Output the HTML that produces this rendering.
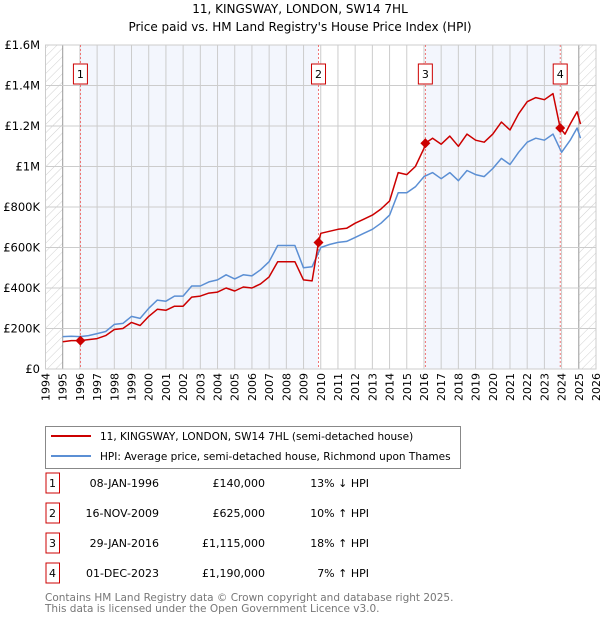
<!DOCTYPE html>
<html><head><meta charset="utf-8"><style>
body{margin:0;background:#fff;font-family:"Liberation Sans","DejaVu Sans",sans-serif;}
svg text{font-family:"DejaVu Sans","Liberation Sans",sans-serif;}
</style></head><body>
<svg width="600" height="620" viewBox="0 0 600 620">
<defs>
<pattern id="hatch" width="6" height="6" patternUnits="userSpaceOnUse" patternTransform="rotate(45)">
<line x1="0" y1="0" x2="0" y2="6" stroke="#bbb" stroke-width="0.7"/></pattern>
</defs>
<text x="300" y="13" text-anchor="middle" font-size="12">11, KINGSWAY, LONDON, SW14 7HL</text>
<text x="300" y="31" text-anchor="middle" font-size="12">Price paid vs. HM Land Registry's House Price Index (HPI)</text>
<g id="plot"></g>
<g>
<rect x="45.5" y="426.5" width="415" height="42" fill="#fff" stroke="#888"/>
<line x1="51" y1="436" x2="91" y2="436" stroke="#cc0000" stroke-width="2"/>
<text x="100" y="440" font-size="10.5">11, KINGSWAY, LONDON, SW14 7HL (semi-detached house)</text>
<line x1="51" y1="456" x2="91" y2="456" stroke="#5b8fd4" stroke-width="2"/>
<text x="100" y="460" font-size="10.5">HPI: Average price, semi-detached house, Richmond upon Thames</text>
</g>
<g id="table" font-size="11"></g>
<text x="45" y="601" font-size="10.5" fill="#777">Contains HM Land Registry data © Crown copyright and database right 2025.</text>
<text x="45" y="612" font-size="10.5" fill="#777">This data is licensed under the Open Government Licence v3.0.</text>
</svg>
<script>
const hpiYears=[1995,1995.5,1996,1996.5,1997,1997.5,1998,1998.5,1999,1999.5,2000,2000.5,2001,2001.5,2002,2002.5,2003,2003.5,2004,2004.5,2005,2005.5,2006,2006.5,2007,2007.5,2008,2008.5,2009,2009.5,2010,2010.5,2011,2011.5,2012,2012.5,2013,2013.5,2014,2014.5,2015,2015.5,2016,2016.5,2017,2017.5,2018,2018.5,2019,2019.5,2020,2020.5,2021,2021.5,2022,2022.5,2023,2023.5,2024,2024.5,2024.9,2025.1];
const hpiValues=[160,162,160,165,175,185,220,225,260,250,300,340,335,360,360,410,410,430,440,465,445,465,460,490,530,610,610,610,500,505,600,615,625,630,650,670,690,720,760,870,870,900,950,970,940,970,930,980,960,950,990,1040,1010,1070,1120,1140,1130,1160,1070,1130,1190,1140];
const priceYears=[1995,1995.5,1996,1996.5,1997,1997.5,1998,1998.5,1999,1999.5,2000,2000.5,2001,2001.5,2002,2002.5,2003,2003.5,2004,2004.5,2005,2005.5,2006,2006.5,2007,2007.5,2008,2008.5,2009,2009.5,2009.87,2010,2010.5,2011,2011.5,2012,2012.5,2013,2013.5,2014,2014.5,2015,2015.5,2016,2016.08,2016.5,2017,2017.5,2018,2018.5,2019,2019.5,2020,2020.5,2021,2021.5,2022,2022.5,2023,2023.5,2023.92,2024.2,2024.5,2024.9,2025.1];
const priceValues=[135,140,140,145,150,165,195,200,230,215,260,295,290,310,310,355,360,375,380,400,385,405,400,420,455,530,530,530,440,435,625,670,680,690,695,720,740,760,790,830,970,960,1000,1090,1115,1140,1110,1150,1100,1160,1130,1120,1160,1220,1180,1260,1320,1340,1330,1360,1190,1160,1210,1270,1210];
const saleYears=[1996.03,2009.87,2016.08,2023.92];
const salePrices=[140,625,1115,1190];
const saleLabels=["1","2","3","4"];
const saleDates=["08-JAN-1996","16-NOV-2009","29-JAN-2016","01-DEC-2023"];
const salePriceText=["£140,000","£625,000","£1,115,000","£1,190,000"];
const saleHpiText=["13% ↓ HPI","10% ↑ HPI","18% ↑ HPI","7% ↑ HPI"];
const yTicks=[0,200,400,600,800,1000,1200,1400,1600];
const yTickLabels=["£0","£200K","£400K","£600K","£800K","£1M","£1.2M","£1.4M","£1.6M"];
const xTicks=[];for(let y=1994;y<=2026;y++)xTicks.push(y);

const NS="http://www.w3.org/2000/svg";
const X0=45.5,X1=596,Y0=369,Y1=45;
const xs=v=>X0+(v-1994)/(32)*(X1-X0);
const ys=v=>Y0-(v/1600)*(Y0-Y1);
function mk(tag,attrs,parent){const e=document.createElementNS(NS,tag);for(const k in attrs)e.setAttribute(k,attrs[k]);parent.appendChild(e);return e;}
const g=document.getElementById('plot');
[[saleYears[0],saleYears[1]],[saleYears[2],saleYears[3]]].forEach((p,i)=>{
 const r=mk('rect',{x:xs(p[0]),y:Y1,width:xs(p[1])-xs(p[0]),height:Y0-Y1,fill:'#f3f6fd'},g);
 
 
});
const h1=mk('rect',{x:xs(1994),y:Y1,width:xs(1995)-xs(1994),height:Y0-Y1,fill:'url(#hatch)'},g);


const h2=mk('rect',{x:xs(2025),y:Y1,width:X1-xs(2025),height:Y0-Y1,fill:'url(#hatch)'},g);


xTicks.forEach(t=>{
 const l=mk('line',{x1:xs(t),x2:xs(t),y1:Y1,y2:Y0,stroke:(t==1995||t==2025)?'#999':'#ccc','stroke-width':1},g);
 
 
 const tx=mk('text',{x:0,y:0,'font-size':11,'text-anchor':'end',transform:`translate(${xs(t)+4},${Y0+4}) rotate(-90)`},g);
 tx.textContent=t;
 
 
});
yTicks.forEach((t,i)=>{
 const l=mk('line',{x1:X0,x2:X1,y1:ys(t),y2:ys(t),stroke:'#ccc','stroke-width':1},g);
 
 
 const tx=mk('text',{x:40,y:ys(t)+4,'font-size':11.5,'text-anchor':'end'},g);
 tx.textContent=yTickLabels[i];
 
 
});
const fr=mk('rect',{x:X0,y:Y1,width:X1-X0,height:Y0-Y1,fill:'none',stroke:'#ccc'},g);


saleYears.forEach((s,i)=>{
 const l=mk('line',{x1:xs(s),x2:xs(s),y1:Y1,y2:Y0,stroke:'#e55','stroke-width':0.8,'stroke-dasharray':'2,2'},g);
 
 
});
function path(xa,va,col,name){
 const d=xa.map((x,i)=>(i?'L':'M')+xs(x).toFixed(1)+','+ys(va[i]).toFixed(1)).join('');
 const p=mk('path',{d:d,fill:'none',stroke:col,'stroke-width':1.5,'stroke-linejoin':'round'},g);
 
 
}
path(hpiYears,hpiValues,'#5b8fd4','hpi-line');
path(priceYears,priceValues,'#cc0000','price-line');
saleYears.forEach((s,i)=>{
 const cx=xs(s),cy=ys(salePrices[i]);
 const d=mk('path',{d:`M${cx},${cy-5}L${cx+5},${cy}L${cx},${cy+5}L${cx-5},${cy}Z`,fill:'#cc0000'},g);
 
 
 const b=mk('rect',{x:cx-7,y:64,width:14,height:20,fill:'#fff',stroke:'#cc0000'},g);
 
 
 const t=mk('text',{x:cx,y:78,'font-size':11,'text-anchor':'middle'},g);
 t.textContent=saleLabels[i];
 
 
});
const tb=document.getElementById('table');
saleLabels.forEach((lab,i)=>{
 const y=473+i*30;
 const b=mk('rect',{x:46,y:y,width:13.5,height:20,fill:'#fff',stroke:'#cc0000'},tb);
 
 
 const cells=[[52.5,lab,'middle'],[159,saleDates[i],'end'],[265,salePriceText[i],'end'],[369,saleHpiText[i],'end']];
 const names=['badge-number','date','price','hpi-change'];
 cells.forEach((c,j)=>{
  const t=mk('text',{x:c[0],y:y+14,'text-anchor':c[2]},tb);
  t.textContent=c[1];
  
  
 });
});
</script>
</body></html>
